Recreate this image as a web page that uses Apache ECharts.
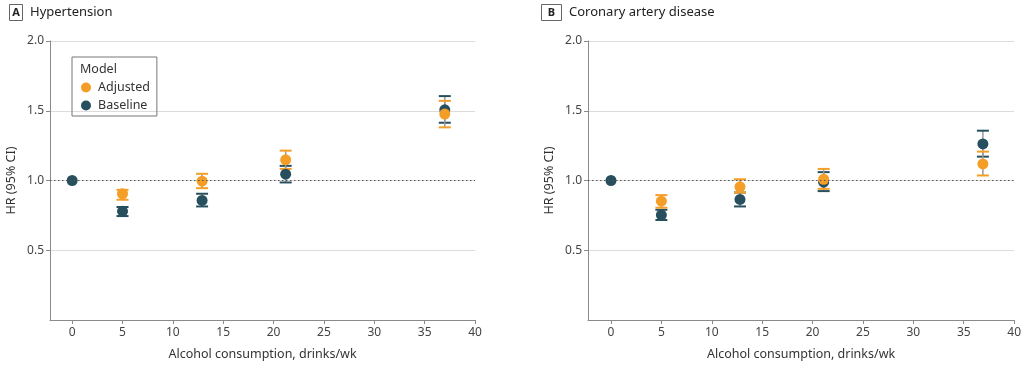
<!DOCTYPE html>
<html><head><meta charset="utf-8">
<script src="https://cdn.jsdelivr.net/npm/echarts@6/dist/echarts.min.js"></script>
<style>html,body{margin:0;padding:0;background:#fff}#c{width:1024px;height:366px}</style>
</head><body><div id="c"></div>
<script>
// ---- data ----
const xTicks = [0, 5, 10, 15, 20, 25, 30, 35, 40];
const yTicks = [0.5, 1.0, 1.5, 2.0];
const xDrinks = [0, 5, 12.9, 21.2, 37.0];
// Panel A: Hypertension
const htnAdjHR = [null, 0.905, 0.995, 1.148, 1.476];
const htnAdjLo = [null, 0.862, 0.945, 1.083, 1.381];
const htnAdjHi = [null, 0.933, 1.048, 1.214, 1.571];
const htnBaseHR = [1.0, 0.779, 0.857, 1.045, 1.507];
const htnBaseLo = [null, 0.745, 0.814, 0.986, 1.414];
const htnBaseHi = [null, 0.810, 0.905, 1.105, 1.605];
// Panel B: Coronary artery disease
const xDrinksB = [0, 5, 12.8, 21.1, 36.9];
const cadAdjHR = [null, 0.852, 0.955, 1.009, 1.119];
const cadAdjLo = [null, 0.805, 0.914, 0.940, 1.036];
const cadAdjHi = [null, 0.895, 1.009, 1.083, 1.207];
const cadBaseHR = [1.0, 0.752, 0.864, 0.988, 1.262];
const cadBaseLo = [null, 0.717, 0.814, 0.924, 1.171];
const cadBaseHi = [null, 0.790, 0.914, 1.060, 1.357];

const ORANGE = '#F49E27';
const DARK = '#284F5E';
const FONT = 'Noto Sans';

function pts(xs, hr) { return xs.map((x, i) => hr[i] == null ? null : [x, hr[i]]).filter(d => d); }
function errs(xs, hr, lo, hi) { return xs.map((x, i) => lo[i] == null ? null : [x, hr[i], lo[i], hi[i]]).filter(d => d); }

function errSeries(idx, data, color) {
  return {
    type: 'custom', xAxisIndex: idx, yAxisIndex: idx, silent: true, z: 2,
    encode: { x: 0, y: [2, 3] },
    renderItem: function (params, api) {
      const lo = api.coord([api.value(0), api.value(2)]);
      const hi = api.coord([api.value(0), api.value(3)]);
      const hw = 6;
      return { type: 'group', children: [
        { type: 'line', shape: { x1: hi[0], y1: hi[1], x2: lo[0], y2: lo[1] }, style: { stroke: '#999', lineWidth: 1.5 } },
        { type: 'line', shape: { x1: hi[0] - hw, y1: hi[1], x2: hi[0] + hw, y2: hi[1] }, style: { stroke: color, lineWidth: 2 } },
        { type: 'line', shape: { x1: lo[0] - hw, y1: lo[1], x2: lo[0] + hw, y2: lo[1] }, style: { stroke: color, lineWidth: 2 } }
      ] };
    },
    data: data
  };
}

function xAxis(idx, min) {
  return {
    type: 'value', gridIndex: idx, min: min, max: 40,
    name: 'Alcohol consumption, drinks/wk', nameLocation: 'middle', nameGap: 28,
    nameTextStyle: { fontFamily: FONT, fontSize: 12.5, color: '#333' },
    axisLine: { show: true, onZero: false, lineStyle: { color: '#8a8a8a', width: 1 } },
    axisTick: { show: true, length: 4, customValues: xTicks, lineStyle: { color: '#8a8a8a' } },
    axisLabel: { customValues: xTicks, fontFamily: FONT, fontSize: 12, color: '#444', margin: 7 },
    splitLine: { show: false }
  };
}
function yAxis(idx) {
  return {
    type: 'value', gridIndex: idx, min: 0, max: 2,
    name: 'HR (95% CI)', nameLocation: 'middle', nameGap: 32, nameRotate: 90,
    nameTextStyle: { fontFamily: FONT, fontSize: 12.5, color: '#333' },
    axisLine: { show: true, onZero: false, lineStyle: { color: '#8a8a8a', width: 1 } },
    axisTick: { show: true, length: 4, customValues: yTicks, lineStyle: { color: '#8a8a8a' } },
    axisLabel: { customValues: yTicks, fontFamily: FONT, fontSize: 12, color: '#444', margin: 6,
      formatter: v => v.toFixed(1) },
    splitLine: { show: true, lineStyle: { color: '#dcdcdc', width: 1 } }
  };
}
function refLine() {
  return { silent: true, symbol: 'none', label: { show: false },
    lineStyle: { color: '#555', type: [1.5, 2.5], width: 1 }, data: [{ yAxis: 1.0 }] };
}
function scatter(idx, name, data, color, z, withRef) {
  const s = { type: 'scatter', name: name, xAxisIndex: idx, yAxisIndex: idx, symbol: 'circle', symbolSize: 11,
    itemStyle: { color: color, opacity: 1 }, z: z, data: data };
  if (withRef) s.markLine = refLine();
  return s;
}

const chart = echarts.init(document.getElementById('c'), null, { renderer: 'canvas' });
chart.setOption({
  animation: false,
  backgroundColor: '#fff',
  grid: [
    { left: 50, right: 549, top: 41, bottom: 46 },
    { left: 588, right: 9, top: 41, bottom: 46 }
  ],
  xAxis: [xAxis(0, -2.2), xAxis(1, -2.28)],
  yAxis: [yAxis(0), yAxis(1)],
  legend: {
    data: ['Adjusted', 'Baseline'], orient: 'vertical', left: 72, top: 57,
    padding: [24, 7, 4, 9], itemGap: 5, itemWidth: 10, itemHeight: 10, icon: 'circle',
    borderColor: '#777', borderWidth: 1,
    textStyle: { fontFamily: FONT, fontSize: 12.5, color: '#333', padding: [0, 0, 0, 2] }
  },
  graphic: [
    { type: 'text', left: 80, top: 63, style: { text: 'Model', fontFamily: FONT, fontSize: 12.5, fill: '#333' } },
    { type: 'rect', shape: { x: 9.5, y: 4.5, width: 13, height: 16 }, style: { fill: '#fff', stroke: '#666', lineWidth: 1 } },
    { type: 'text', x: 16, y: 12.5, style: { text: 'A', fontFamily: FONT, fontSize: 11, fontWeight: 'bold', fill: '#222', align: 'center', verticalAlign: 'middle' } },
    { type: 'text', x: 30, y: 12.5, style: { text: 'Hypertension', fontFamily: FONT, fontSize: 13, fill: '#222', verticalAlign: 'middle' } },
    { type: 'rect', shape: { x: 541.5, y: 4.5, width: 20, height: 16 }, style: { fill: '#fff', stroke: '#666', lineWidth: 1 } },
    { type: 'text', x: 551.5, y: 12.5, style: { text: 'B', fontFamily: FONT, fontSize: 11, fontWeight: 'bold', fill: '#222', align: 'center', verticalAlign: 'middle' } },
    { type: 'text', x: 569, y: 12.5, style: { text: 'Coronary artery disease', fontFamily: FONT, fontSize: 13, fill: '#222', verticalAlign: 'middle' } }
  ],
  series: [
    errSeries(0, errs(xDrinks, htnBaseHR, htnBaseLo, htnBaseHi), DARK),
    errSeries(0, errs(xDrinks, htnAdjHR, htnAdjLo, htnAdjHi), ORANGE),
    scatter(0, 'Baseline', pts(xDrinks, htnBaseHR), DARK, 3, true),
    scatter(0, 'Adjusted', pts(xDrinks, htnAdjHR), ORANGE, 4, false),
    errSeries(1, errs(xDrinksB, cadBaseHR, cadBaseLo, cadBaseHi), DARK),
    errSeries(1, errs(xDrinksB, cadAdjHR, cadAdjLo, cadAdjHi), ORANGE),
    scatter(1, 'Baseline', pts(xDrinksB, cadBaseHR), DARK, 3, true),
    scatter(1, 'Adjusted', pts(xDrinksB, cadAdjHR), ORANGE, 4, false)
  ]
});
</script></body></html>
